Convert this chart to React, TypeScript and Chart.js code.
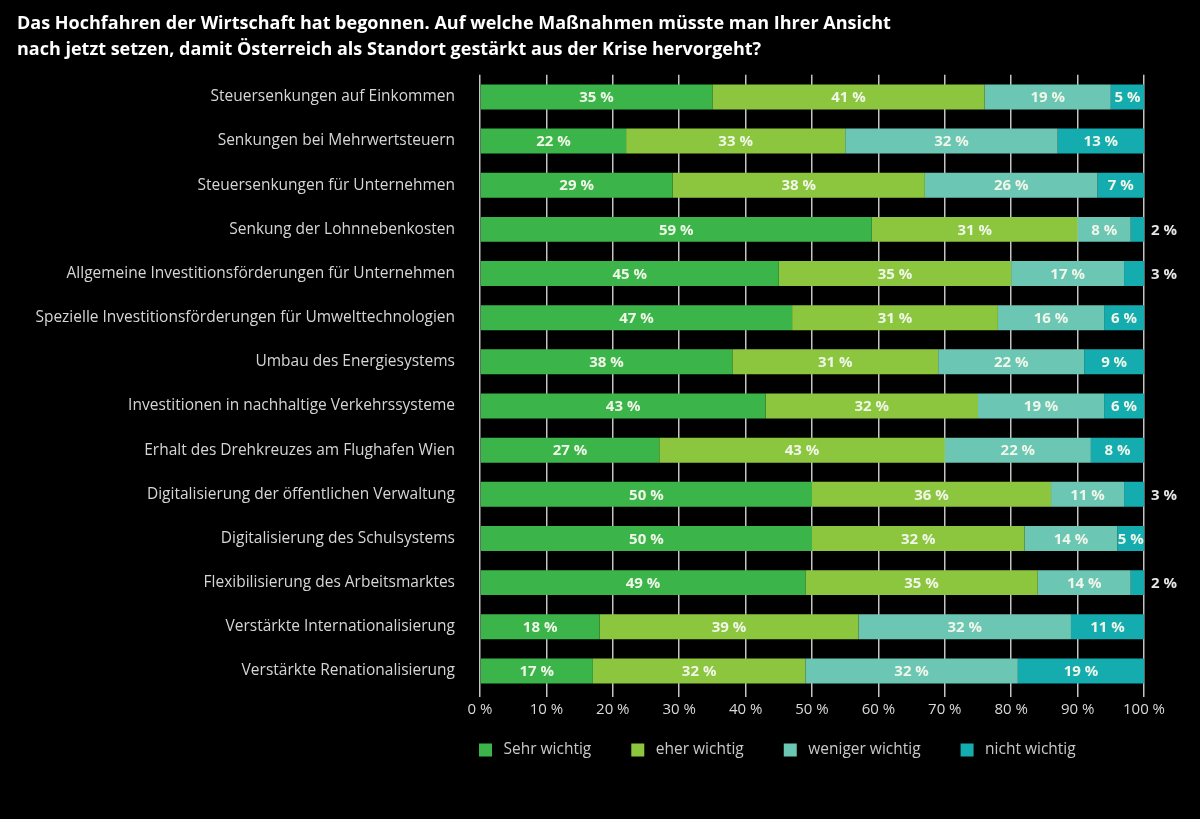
import React, { useEffect, useRef } from "react";
import { Chart, registerables } from "chart.js";

Chart.register(...registerables);

const titleLines = [
  "Das Hochfahren der Wirtschaft hat begonnen. Auf welche Maßnahmen müsste man Ihrer Ansicht",
  "nach jetzt setzen, damit Österreich als Standort gestärkt aus der Krise hervorgeht?",
];

const categories = [
  "Steuersenkungen auf Einkommen",
  "Senkungen bei Mehrwertsteuern",
  "Steuersenkungen für Unternehmen",
  "Senkung der Lohnnebenkosten",
  "Allgemeine Investitionsförderungen für Unternehmen",
  "Spezielle Investitionsförderungen für Umwelttechnologien",
  "Umbau des Energiesystems",
  "Investitionen in nachhaltige Verkehrssysteme",
  "Erhalt des Drehkreuzes am Flughafen Wien",
  "Digitalisierung der öffentlichen Verwaltung",
  "Digitalisierung des Schulsystems",
  "Flexibilisierung des Arbeitsmarktes",
  "Verstärkte Internationalisierung",
  "Verstärkte Renationalisierung",
];

const sehrWichtig = [35, 22, 29, 59, 45, 47, 38, 43, 27, 50, 50, 49, 18, 17];
const eherWichtig = [41, 33, 38, 31, 35, 31, 31, 32, 43, 36, 32, 35, 39, 32];
const wenigerWichtig = [19, 32, 26, 8, 17, 16, 22, 19, 22, 11, 14, 14, 32, 32];
const nichtWichtig = [5, 13, 7, 2, 3, 6, 9, 6, 8, 3, 5, 2, 11, 19];

const seriesNames = ["Sehr wichtig", "eher wichtig", "weniger wichtig", "nicht wichtig"];
const seriesColors = ["#3bb54a", "#8cc63f", "#6cc6b4", "#15acb0"];

const xTickValues = [0, 10, 20, 30, 40, 50, 60, 70, 80, 90, 100];

const FONT = "'Open Sans', sans-serif";

const barLabelPlugin = {
  id: "barLabels",
  afterDatasetsDraw(chart: any) {
    const ctx = chart.ctx;
    const area = chart.chartArea;
    ctx.save();
    ctx.font = `bold 15px ${FONT}`;
    ctx.textBaseline = "middle";
    chart.data.datasets.forEach((ds: any, di: number) => {
      const meta = chart.getDatasetMeta(di);
      meta.data.forEach((bar: any, i: number) => {
        const v = ds.data[i];
        const p = bar.getProps(["x", "y", "base"], true);
        if (v <= 3) {
          ctx.fillStyle = "#e6e6e6";
          ctx.textAlign = "left";
          ctx.fillText(`${v} %`, area.right + 7, p.y + 1);
        } else {
          const right = Math.min(p.x, area.right);
          const left = Math.max(p.base, area.left);
          ctx.fillStyle = "#f0f6e8";
          ctx.textAlign = "center";
          ctx.fillText(`${v} %`, (left + right) / 2, p.y + 1);
        }
      });
    });
    ctx.restore();
  },
};

const legendPlugin = {
  id: "customLegend",
  afterDraw(chart: any) {
    const ctx = chart.ctx;
    const area = chart.chartArea;
    ctx.save();
    ctx.font = `15.5px ${FONT}`;
    ctx.textBaseline = "middle";
    ctx.textAlign = "left";
    const y = 750;
    let x = area.left - 1;
    chart.data.datasets.forEach((ds: any) => {
      ctx.fillStyle = ds.backgroundColor;
      ctx.fillRect(x, y - 6.5, 13, 13);
      x += 13 + 11.5;
      ctx.fillStyle = "#c9c9c9";
      ctx.fillText(ds.label, x, y);
      x += ctx.measureText(ds.label).width + 40;
    });
    ctx.restore();
  },
};

export default function App() {
  const canvasRef = useRef<HTMLCanvasElement | null>(null);

  useEffect(() => {
    document.body.style.margin = "0";
    document.body.style.background = "#000";
    const canvas = canvasRef.current;
    if (!canvas) return;
    Chart.defaults.font.family = FONT;
    const values = [sehrWichtig, eherWichtig, wenigerWichtig, nichtWichtig];
    const chart = new Chart(canvas, {
      type: "bar",
      data: {
        labels: categories,
        datasets: seriesNames.map((name, k) => ({
          label: name,
          data: values[k],
          backgroundColor: seriesColors[k],
          borderWidth: 0,
          categoryPercentage: 1,
          barPercentage: 0.565,
        })),
      },
      options: {
        indexAxis: "y",
        animation: false,
        responsive: false,
        maintainAspectRatio: false,
        layout: { padding: { left: 17, right: 56, top: 11, bottom: 96 } },
        plugins: {
          legend: { display: false },
          tooltip: { enabled: false },
          title: {
            display: true,
            text: titleLines,
            align: "start",
            color: "#ffffff",
            font: { family: FONT, size: 18, weight: "bold", lineHeight: 1.44 },
            padding: { top: 0, bottom: 12 },
          },
        },
        scales: {
          x: {
            stacked: true,
            min: 0,
            max: 100,
            afterBuildTicks(scale: any) {
              scale.ticks = xTickValues.map((v) => ({ value: v }));
            },
            ticks: {
              color: "#d9d9d9",
              font: { family: FONT, size: 15 },
              padding: 4,
              callback: (v: any) => `${v} %`,
            },
            grid: {
              color: "#c4c4c4",
              lineWidth: 1.5,
              drawTicks: true,
              tickLength: 4,
            },
            border: { display: false },
          },
          y: {
            stacked: true,
            afterFit(scale: any) {
              scale.width = 463;
            },
            ticks: {
              color: "#d6d6d6",
              font: { family: FONT, size: 15.5 },
              padding: 17,
            },
            grid: { display: false },
            border: { display: false },
          },
        },
      },
      plugins: [barLabelPlugin, legendPlugin],
    } as any);
    return () => chart.destroy();
  }, []);

  return (
    <div style={{ position: "absolute", left: 0, top: 0, width: 1200, height: 819, background: "#000" }}>
      <canvas ref={canvasRef} width={1200} height={819} style={{ width: 1200, height: 819, display: "block" }} />
    </div>
  );
}
